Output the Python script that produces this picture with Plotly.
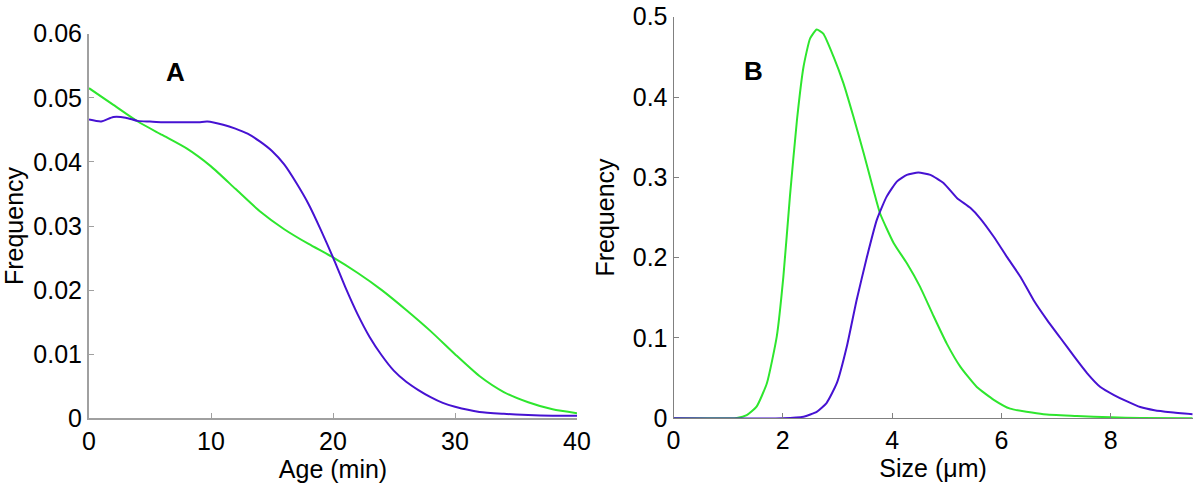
import plotly.graph_objects as go

# Panel A: age distribution
age_x = [0, 2, 4, 6, 8, 10, 12, 14, 16, 18, 20, 22, 24, 26, 28, 30, 32, 34, 36, 38, 40]
age_green = [0.0515, 0.0489, 0.0463, 0.0442, 0.0421, 0.0393, 0.0358, 0.0323, 0.0295, 0.0272,
             0.0251, 0.0227, 0.0200, 0.0169, 0.0136, 0.0100, 0.0066, 0.0041, 0.0025, 0.0014, 0.0008]
age_x_blue = [0, 1, 2, 3, 4, 5, 6, 7, 8, 9, 9.7, 11, 12, 13, 14, 15, 16, 17, 18, 19, 20, 21, 22,
              23, 24, 25, 26, 27, 28, 29, 30, 32, 34, 36, 38, 40]
age_blue = [0.0466, 0.0463, 0.0470, 0.0469, 0.0464, 0.0463, 0.0462, 0.0462, 0.0462, 0.0462, 0.0463,
            0.0458, 0.0452, 0.0444, 0.0432, 0.0417, 0.0396, 0.0367, 0.0334, 0.0294, 0.0251, 0.0205,
            0.0163, 0.0127, 0.0098, 0.0074, 0.0057, 0.0044, 0.0033, 0.0024, 0.0018, 0.0010, 0.0007,
            0.0005, 0.0004, 0.0004]

# Panel B: size distribution
size_x_green = [0, 1.0, 1.16, 1.34, 1.52, 1.71, 1.89, 2.01, 2.13, 2.26, 2.38, 2.5, 2.62, 2.74, 2.93,
                3.11, 3.29, 3.48, 3.66, 3.78, 4.03, 4.27, 4.51, 4.76, 5.0, 5.25, 5.55, 5.86, 6.16,
                6.77, 7.38, 8.0, 8.54, 9.5]
size_green = [0, 0, 0.0005, 0.004, 0.0145, 0.044, 0.102, 0.176, 0.276, 0.372, 0.438, 0.473, 0.484,
              0.479, 0.45, 0.417, 0.376, 0.33, 0.284, 0.255, 0.218, 0.193, 0.164, 0.127, 0.093,
              0.064, 0.039, 0.023, 0.012, 0.005, 0.003, 0.0012, 0.0005, 0.0002]
size_x_blue = [0, 2.0, 2.38, 2.62, 2.8, 2.99, 3.17, 3.35, 3.54, 3.72, 3.9, 4.09, 4.27, 4.48, 4.7,
               4.94, 5.19, 5.43, 5.61, 5.86, 6.1, 6.35, 6.59, 6.84, 7.08, 7.33, 7.57, 7.81, 8.06,
               8.3, 8.54, 8.8, 9.1, 9.5]
size_blue = [0, 0, 0.002, 0.008, 0.019, 0.044, 0.089, 0.147, 0.201, 0.247, 0.276, 0.295, 0.303,
             0.306, 0.303, 0.293, 0.274, 0.262, 0.249, 0.226, 0.201, 0.176, 0.147, 0.122, 0.1,
             0.077, 0.056, 0.039, 0.029, 0.021, 0.014, 0.010, 0.0075, 0.005]

GREEN = "#2ee62e"
BLUE = "#4612d2"
FONT = "Liberation Sans, Arial, sans-serif"

fig = go.Figure()
fig.add_trace(go.Scatter(x=age_x, y=age_green, mode="lines", xaxis="x", yaxis="y",
                         line=dict(color=GREEN, width=2, shape="spline", smoothing=0.6)))
fig.add_trace(go.Scatter(x=age_x_blue, y=age_blue, mode="lines", xaxis="x", yaxis="y",
                         line=dict(color=BLUE, width=2, shape="spline", smoothing=0.6)))
fig.add_trace(go.Scatter(x=size_x_green, y=size_green, mode="lines", xaxis="x2", yaxis="y2",
                         line=dict(color=GREEN, width=2, shape="spline", smoothing=0.5)))
fig.add_trace(go.Scatter(x=size_x_blue, y=size_blue, mode="lines", xaxis="x2", yaxis="y2",
                         line=dict(color=BLUE, width=2, shape="spline", smoothing=0.5)))

tickfont = dict(family=FONT, size=25, color="black")
titlefont = dict(family=FONT, size=25, color="black")

common = dict(showgrid=False, zeroline=False, showline=True, ticks="inside", ticklen=5,
              tickfont=tickfont, mirror=False, automargin=False)

fig.update_layout(
    width=1200, height=483,
    margin=dict(l=0, r=0, t=0, b=0, autoexpand=False),
    paper_bgcolor="white", plot_bgcolor="white",
    showlegend=False,
    xaxis=dict(domain=[89/1200, 577/1200], range=[0, 40], tickvals=[0, 10, 20, 30, 40],
               anchor="y", linecolor="#a0a0a0", linewidth=2, tickcolor="#a0a0a0", tickwidth=1,
               title=dict(text="Age (min)", font=titlefont, standoff=2), **common),
    yaxis=dict(domain=[64.7/483, 449.3/483], range=[0, 0.06],
               tickvals=[0, 0.01, 0.02, 0.03, 0.04, 0.05, 0.06],
               ticktext=["0", "0.01", "0.02", "0.03", "0.04", "0.05", "0.06"],
               anchor="x", linecolor="#a0a0a0", linewidth=2, tickcolor="#a0a0a0", tickwidth=1,
               title=dict(text="Frequency", font=titlefont, standoff=10), **common),
    xaxis2=dict(domain=[673.5/1200, 1192.7/1200], range=[0, 9.5], tickvals=[0, 2, 4, 6, 8],
                anchor="y2", linecolor="#808080", linewidth=1, tickcolor="#808080", tickwidth=1,
                title=dict(text="Size (μm)", font=titlefont, standoff=2), **common),
    yaxis2=dict(domain=[64.7/483, 466.3/483], range=[0, 0.5],
                tickvals=[0, 0.1, 0.2, 0.3, 0.4, 0.5],
                ticktext=["0", "0.1", "0.2", "0.3", "0.4", "0.5"],
                anchor="x2", linecolor="#808080", linewidth=1, tickcolor="#808080", tickwidth=1,
                title=dict(text="Frequency", font=titlefont, standoff=10), **common),
    annotations=[
        dict(text="<b>A</b>", x=7.1, y=0.054, xref="x", yref="y", showarrow=False,
             font=dict(family=FONT, size=26, color="black")),
        dict(text="<b>B</b>", x=1.46, y=0.432, xref="x2", yref="y2", showarrow=False,
             font=dict(family=FONT, size=26, color="black")),
    ],
)

fig.write_html("out.html", config={"displayModeBar": False},
               post_script="document.body.style.margin='0';document.body.style.overflow='hidden';")
